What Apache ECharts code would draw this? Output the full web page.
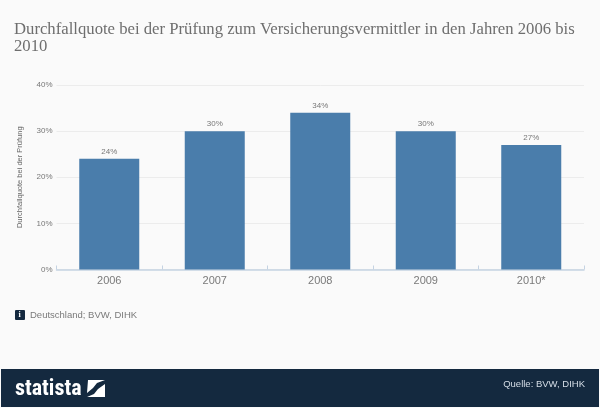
<!DOCTYPE html>
<html><head><meta charset="utf-8">
<style>html,body{margin:0;padding:0;background:#fafafa}#c{width:600px;height:408px}</style>
<script src="https://cdn.jsdelivr.net/npm/echarts@6/dist/echarts.min.js"></script>
</head><body><div id="c"></div>
<script>
const categories=['2006','2007','2008','2009','2010*'];
const values=[24,30,34,30,27];
const yTicks=[0,10,20,30,40];
const titleLines='Durchfallquote bei der Prüfung zum Versicherungsvermittler in den Jahren 2006 bis\n2010';
const yName='Durchfallquote bei der Prüfung';
const note='Deutschland; BVW, DIHK';
const source='Quelle: BVW, DIHK';
const brand='statista';
const chart=echarts.init(document.getElementById('c'),null,{renderer:'canvas'});
chart.setOption({
 animation:false,
 backgroundColor:'#fafafa',
 grid:{left:56.5,right:16,top:85,height:184.5,containLabel:false},
 xAxis:{type:'category',data:categories,
  axisLine:{lineStyle:{color:'#c5d3e2',width:1.5}},
  axisTick:{show:true,length:4,inside:true,lineStyle:{color:'#c5d3e2'},alignWithLabel:false},
  axisLabel:{color:'#7a7a7a',fontSize:11,fontFamily:'Liberation Sans',margin:6}},
 yAxis:{type:'value',min:yTicks[0],max:yTicks[4],interval:10,
  name:yName,nameLocation:'middle',nameRotate:90,nameGap:33,
  nameTextStyle:{color:'#666',fontSize:7.5,fontFamily:'Liberation Sans'},
  axisLine:{show:false},axisTick:{show:false},
  axisLabel:{formatter:'{value}%',color:'#777',fontSize:8,fontFamily:'Liberation Sans',margin:4},
  splitLine:{lineStyle:{color:'#ececec',width:1}}},
 series:[{type:'bar',data:values,barWidth:60,
  itemStyle:{color:'#4a7dab'},
  label:{show:true,position:'top',formatter:'{c}%',color:'#777',fontSize:8,fontFamily:'Liberation Sans',distance:3}}],
 graphic:[
  {type:'text',left:14,top:21,style:{text:titleLines,fill:'#6e6e6e',font:'16.7px "Liberation Serif"',lineHeight:17}},
  {type:'rect',shape:{x:15,y:310,width:10,height:10,r:1},style:{fill:'#14293f'}},
  {type:'text',left:18.5,top:311,style:{text:'i',fill:'#fff',font:'bold 8px "Liberation Serif"'}},
  {type:'text',left:30,top:310,style:{text:note,fill:'#7a7a7a',font:'9.5px "Liberation Sans"'}},
  {type:'rect',shape:{x:1,y:369,width:598,height:38},style:{fill:'#14293f'}},
  {type:'text',left:15,top:378,style:{text:brand,fill:'#fff',font:'bold 22px "Roboto Condensed","Liberation Sans Narrow","Liberation Sans"'}},
  {type:'polygon',shape:{points:[[88,380],[105,380],[97,383],[93,388],[87,393]]},style:{fill:'#fff'}},
  {type:'polygon',shape:{points:[[105,384],[105,397],[87,397],[94,394],[98,389]]},style:{fill:'#fff'}},
  {type:'text',right:15,top:379,style:{text:source,fill:'#d5dde6',font:'9.5px "Liberation Sans"',textAlign:'right'}}
 ]
});
</script></body></html>
